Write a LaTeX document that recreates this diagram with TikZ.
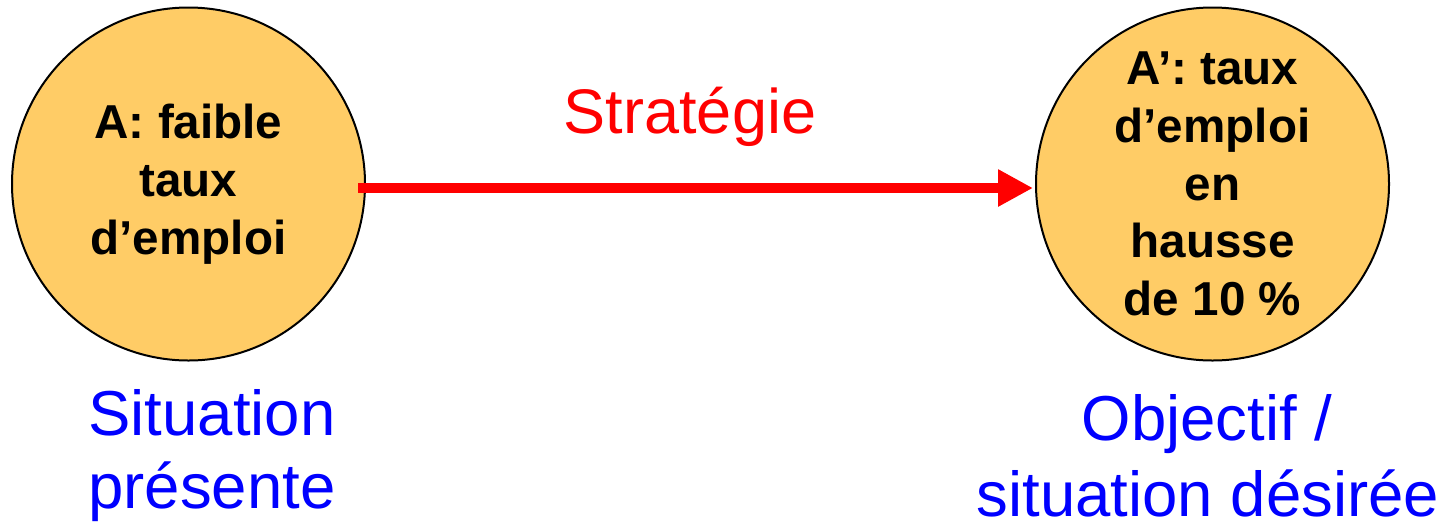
\documentclass[tikz,border=0pt]{standalone}
\usepackage{fontspec}
\setmainfont{Liberation Sans}
\usetikzlibrary{arrows.meta}
\definecolor{circfill}{RGB}{255,204,102}
\definecolor{stratred}{RGB}{255,0,0}
\definecolor{labblue}{RGB}{0,0,255}
\tikzset{
  state/.style={circle, draw=black, line width=1pt, fill=circfill, minimum size=176.5pt,
    inner sep=0pt, align=center, font=\fontsize{23.8}{28.9}\selectfont\bfseries},
  bluelab/.style={text=labblue, anchor=base, inner sep=0pt, font=\fontsize{31.75}{38}\selectfont},
  stratlab/.style={text=stratred, anchor=base, inner sep=0pt, font=\fontsize{31.5}{38}\selectfont},
  bigarrow/.style={draw=stratred, line width=5pt, -{Triangle[length=17.5pt,width=17.5pt]}}
}
\begin{document}
\begin{tikzpicture}[x=0.5pt,y=-0.5pt]
\useasboundingbox (0,0) rectangle (1444,521);
\node[state] (A) at (188.5,184) {A: faible\\taux\\d’emploi};
\node[state] (B) at (1212.5,184) {A’: taux\\d’emploi\\en\\hausse\\de 10 \%};
\coordinate (start) at (358,188);
\coordinate (tip) at (1033,188);
\draw[bigarrow] (start) -- (tip);
\node[stratlab] (strat) at (690,133) {Stratégie};
\node[bluelab] (sit1) at (212,435) {Situation};
\node[bluelab] (sit2) at (212,508) {présente};
\node[bluelab] (obj1) at (1207,440) {Objectif /};
\node[bluelab] (obj2) at (1208,516) {situation désirée};
\end{tikzpicture}
\end{document}
